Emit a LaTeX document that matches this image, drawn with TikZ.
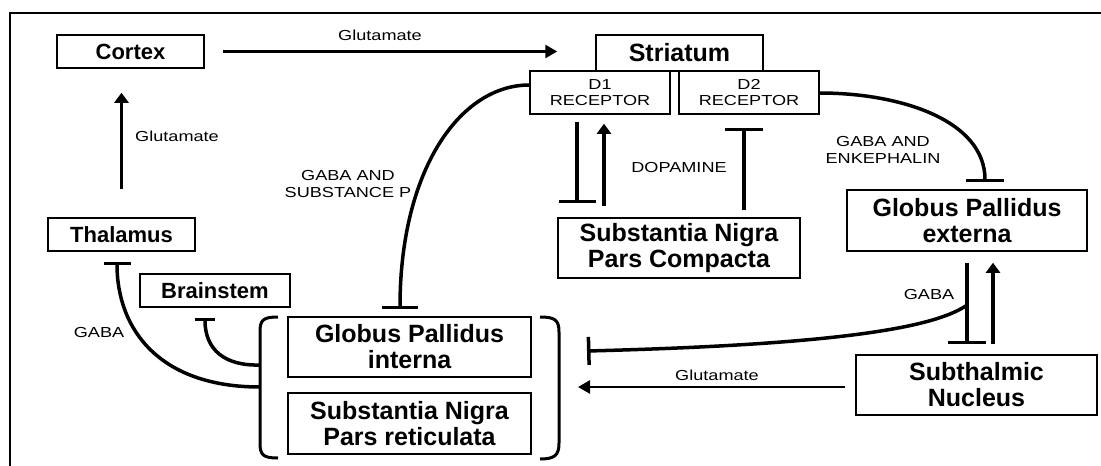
\documentclass[tikz,border=0pt]{standalone}
\usepackage{fontspec}
\setmainfont{Liberation Sans}
\newfontfamily\lblfont[FakeStretch=1.25]{Liberation Sans}
\usetikzlibrary{arrows.meta}
\begin{document}
\begin{tikzpicture}[x=1pt,y=-1pt,
 box/.style={draw,line width=1.5pt,inner sep=0pt,align=center,font=\bfseries\fontsize{22}{25}\selectfont},
 bigbox/.style={box,font=\bfseries\fontsize{25}{26}\selectfont},
 recbox/.style={draw,line width=1.5pt,inner sep=0pt,align=center,font=\lblfont\fontsize{14.5}{16.5}\selectfont},
 lbl/.style={inner sep=0pt,align=center,font=\lblfont\fontsize{14.5}{17}\selectfont},
 exc/.style={line width=3.5pt,-{Triangle[length=10pt,width=14pt]}},
 thinexc/.style={line width=2.5pt,-{Triangle[length=12pt,width=13pt]}},
 inh/.style={line width=3.5pt,-{Bar[width=#1]}},
 bracket/.style={line width=3pt}]
\useasboundingbox (0,0) rectangle (1101,466);
\draw[line width=1.4pt] (10,466) -- (10,13) -- (1101,13);

% boxes
\node[box,minimum width=147pt,minimum height=33pt] (cortex) at (130.5,51.5) {Cortex};
\node[bigbox,minimum width=167pt,minimum height=36pt] (striatum) at (679.5,53) {Striatum};
\node[recbox,minimum width=140pt,minimum height=43pt] (d1) at (600,92.5) {D1\\RECEPTOR};
\node[recbox,minimum width=140pt,minimum height=43pt] (d2) at (749,92.5) {D2\\RECEPTOR};
\node[box,minimum width=147pt,minimum height=33pt] (thalamus) at (121.5,234.5) {Thalamus};
\node[box,minimum width=150pt,minimum height=33pt] (brainstem) at (215,290.5) {Brainstem};
\node[bigbox,minimum width=243pt,minimum height=60pt] (gpi) at (409.5,347) {Globus Pallidus\\interna};
\node[bigbox,minimum width=243pt,minimum height=61pt] (snr) at (409.5,423.5) {Substantia Nigra\\Pars reticulata};
\node[bigbox,minimum width=242pt,minimum height=60pt] (snc) at (679,248) {Substantia Nigra\\Pars Compacta};
\node[bigbox,minimum width=240pt,minimum height=61pt] (gpe) at (967,220.5) {Globus Pallidus\\externa};
\node[bigbox,minimum width=241pt,minimum height=60pt] (stn) at (976.5,385) {Subthalmic\\Nucleus};

% brackets
\draw[bracket] (278,317) .. controls (263,317) and (260,320) .. (260,332) -- (260,443) .. controls (260,455) and (263,458) .. (278,458);
\draw[bracket] (540,317) .. controls (555,317) and (559,320) .. (559,332) -- (559,443) .. controls (559,455) and (555,459) .. (540,459);
\coordinate (brthal) at (260,387);
\coordinate (brbrain) at (260,365);
\coordinate (gpiinh) at (587,351);
\coordinate (gpiglu) at (578,387);

% connectors
\draw[thinexc,shorten <=18pt,shorten >=38pt] (cortex.east) -- (cortex.east -| striatum.west);
\draw[exc,shorten <=28pt,shorten >=24pt] (thalamus.north) -- (thalamus.north |- cortex.south);
\draw[inh=27pt] (brthal) .. controls (160,387) and (117,330) .. ([xshift=-4.5pt,yshift=-10pt]thalamus.south);
\draw[inh=20pt] (brbrain) .. controls (225,366) and (205,350) .. ([xshift=-10pt,yshift=-10pt]brainstem.south);
\draw[inh=36pt] ([yshift=7.5pt]d1.west) .. controls (460,85) and (400,170) .. ([xshift=-9.5pt,yshift=7pt]gpi.north);
\draw[inh=37pt,shorten <=7pt,shorten >=14pt] ([xshift=-23pt]d1.south) -- ([xshift=-23pt]d1.south |- snc.north);
\draw[exc,shorten <=11pt,shorten >=9pt] ([xshift=4pt]d1.south |- snc.north) -- ([xshift=4pt]d1.south);
\draw[inh=38pt,shorten <=7pt,shorten >=13pt] ([xshift=-5pt]d2.south |- snc.north) -- ([xshift=-5pt]d2.south);
\draw[inh=38pt] ([yshift=-0.5pt]d2.east) .. controls (900,93) and (985,120) .. ([xshift=18pt,yshift=7pt]gpe.north);
\draw[inh=38pt,shorten <=11pt,shorten >=10pt] (gpe.south) -- (gpe.south |- stn.north);
\draw[exc,shorten <=10pt,shorten >=11pt] ([xshift=26pt]gpe.south |- stn.north) -- ([xshift=26pt]gpe.south);
\draw[inh=28pt] ([xshift=-1pt,yshift=-54pt]gpe.south) .. controls (930,330) and (820,345) .. (gpiinh);
\draw[thinexc,shorten <=10pt] ([yshift=-2pt]stn.west) -- (gpiglu);

% labels
\node[lbl] (l1) at (380,35) {Glutamate};
\node[lbl,anchor=west] (l2) at (135,136) {Glutamate};
\node[lbl] (l3) at (348,184) {GABA AND\\SUBSTANCE P};
\node[lbl] (l4) at (679,168) {DOPAMINE};
\node[lbl] (l5) at (883,150) {GABA AND\\ENKEPHALIN};
\node[lbl] (l6) at (99,333) {GABA};
\node[lbl] (l7) at (929,295) {GABA};
\node[lbl] (l8) at (717,375) {Glutamate};
\end{tikzpicture}
\end{document}
